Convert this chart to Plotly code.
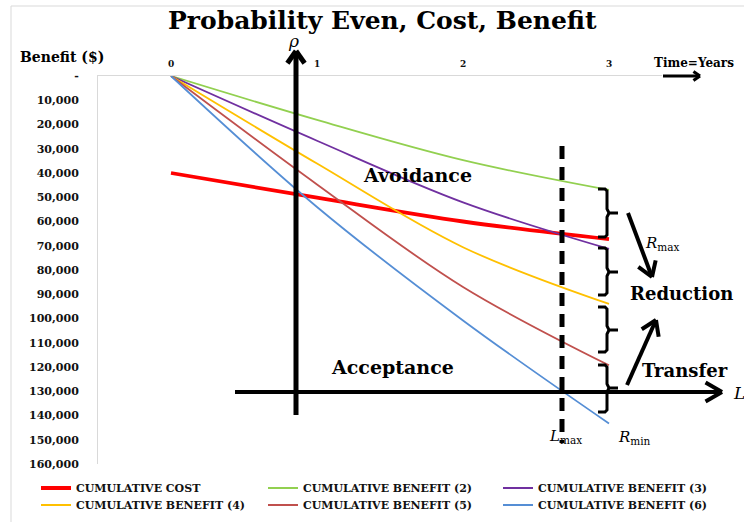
import math
import plotly.graph_objects as go

# ---------------- data ----------------
years = [0, 1, 2, 3]
x_tick_labels = ["0", "1", "2", "3"]
cumulative_cost = [40000, 50200, 60000, 67300]
cumulative_benefit_2 = [0, 18100, 34700, 47000]
cumulative_benefit_3 = [0, 26700, 52100, 71300]
cumulative_benefit_4 = [0, 36100, 70600, 94000]
cumulative_benefit_5 = [0, 44700, 87000, 119300]
cumulative_benefit_6 = [0, 54000, 100800, 143300]
y_tick_values = list(range(0, 160001, 10000))
y_tick_labels = ["-"] + [f"{v:,}" for v in y_tick_values[1:]]

series_names = ["CUMULATIVE COST", "CUMULATIVE BENEFIT (2)", "CUMULATIVE BENEFIT (3)",
                "CUMULATIVE BENEFIT (4)", "CUMULATIVE BENEFIT (5)", "CUMULATIVE BENEFIT (6)"]
series_values = [cumulative_cost, cumulative_benefit_2, cumulative_benefit_3,
                 cumulative_benefit_4, cumulative_benefit_5, cumulative_benefit_6]
series_colors = ["#FF0000", "#92D050", "#7030A0", "#FFC000", "#C0504D", "#558ED5"]
series_widths = [3.8, 1.8, 1.8, 1.8, 1.8, 1.8]

W, H = 744, 522
L_, R_, T_, B_ = 98, 662, 76, 464
SERIF = "DejaVu Serif"

def px(x):
    return (x - L_) / (R_ - L_)

def py(y):
    return (B_ - y) / (B_ - T_)

fig = go.Figure()
legend_ids = ["legend", "legend2", "legend3", "legend4", "legend5", "legend6"]
legend_pos = [(76, 488), (303, 488), (538, 488), (76, 505), (303, 505), (538, 505)]
for name, vals, col, wd, lid in zip(series_names, series_values, series_colors, series_widths, legend_ids):
    fig.add_trace(go.Scatter(
        x=years, y=vals, name=name, mode="lines",
        line=dict(color=col, width=wd, shape="spline", smoothing=1.0),
        legend=lid, hoverinfo="skip"))

legend_layout = {}
for lid, (tx, ty) in zip(legend_ids, legend_pos):
    legend_layout[lid] = dict(
        x=px(tx - 40), y=py(ty), xanchor="left", yanchor="middle",
        orientation="h", bgcolor="rgba(0,0,0,0)", borderwidth=0,
        font=dict(family=SERIF, size=11, color="#111111", weight="bold"),
        itemwidth=30)

shapes = []

def seg(x0, y0, x1, y1, width=4, dash=None, color="black"):
    line = dict(color=color, width=width)
    if dash:
        line["dash"] = dash
    shapes.append(dict(type="line", xref="paper", yref="paper",
                       x0=px(x0), y0=py(y0), x1=px(x1), y1=py(y1), line=line))

def arrow(tail, tip, width=4, head=15, ang=33):
    seg(tail[0], tail[1], tip[0], tip[1], width)
    dx, dy = tail[0] - tip[0], tail[1] - tip[1]
    n = math.hypot(dx, dy)
    ux, uy = dx / n, dy / n
    for s in (1, -1):
        a = math.radians(ang) * s
        wx = ux * math.cos(a) - uy * math.sin(a)
        wy = ux * math.sin(a) + uy * math.cos(a)
        path = (f"M{px(tip[0] + wx * head)},{py(tip[1] + wy * head)} "
                f"L{px(tip[0])},{py(tip[1])}")
        shapes.append(dict(type="path", xref="paper", yref="paper", path=path,
                           line=dict(color="black", width=width)))

def brace(y0, y1, ym, xl=598, xs=607, xt=618, width=3):
    r = 4
    pts = (f"M{px(xl)},{py(y0)} L{px(xs - 2)},{py(y0)} L{px(xs)},{py(y0 + 2)} "
           f"L{px(xs)},{py(ym - r)} L{px(xs + 2)},{py(ym)} L{px(xt)},{py(ym)} "
           f"M{px(xs + 2)},{py(ym)} L{px(xs)},{py(ym + r)} "
           f"L{px(xs)},{py(y1 - 2)} L{px(xs - 2)},{py(y1)} L{px(xl)},{py(y1)}")
    shapes.append(dict(type="path", xref="paper", yref="paper", path=pts,
                       line=dict(color="black", width=width)))

# outer chart frame
shapes.append(dict(type="rect", xref="paper", yref="paper", x0=px(11), y0=py(6),
                   x1=px(780), y1=py(560), line=dict(color="#D9D9D9", width=1)))

# rho axis arrow, L axis arrow, time arrow
arrow((296, 415), (296, 51), width=5, head=15, ang=35)
arrow((235, 392), (722, 392), width=4, head=19, ang=30)
arrow((663, 76), (700, 76), width=3, head=8, ang=35)
# dashed L_max line
seg(562, 146, 562, 443, width=5, dash="13px,8px")
# braces
brace(189, 237, 213)
brace(248, 295, 272)
brace(307, 352, 330)
brace(365, 412, 388)
# reduction / transfer arrows
arrow((628, 213), (652, 277), width=4, head=17, ang=33)
arrow((627, 385), (656, 320), width=4, head=17, ang=33)

annotations = []

def text(s, x, y, size, xanchor="left", bold=True, italic=False, color="black"):
    annotations.append(dict(
        text=s, xref="paper", yref="paper", x=px(x), y=py(y),
        xanchor=xanchor, yanchor="middle", showarrow=False,
        font=dict(family=SERIF, size=size, color=color,
                  weight="bold" if bold else "normal",
                  style="italic" if italic else "normal")))

text("Probability Even, Cost, Benefit", 382, 20, 25, xanchor="center")
text("Benefit ($)", 18, 57, 14)
text("Time=Years", 652, 63, 12)
text("ρ", 293, 41, 17, xanchor="center", bold=False, italic=True)
text("Avoidance", 417, 175, 19, xanchor="center")
text("Acceptance", 392, 367, 19, xanchor="center")
text("Reduction", 628, 293, 18)
text("Transfer", 640, 370, 18)
text("L", 731, 393, 17, bold=False, italic=True)
text("<i>R</i><sub>max</sub>", 643, 243, 15, bold=False)
text("<i>R</i><sub>min</sub>", 616, 437, 15, bold=False)
text("<i>L</i><sub>max</sub>", 547, 436, 15, bold=False)

fig.update_layout(
    width=W, height=H,
    margin=dict(l=L_, r=W - R_, t=T_, b=H - B_, autoexpand=False),
    paper_bgcolor="white", plot_bgcolor="white",
    showlegend=True,
    shapes=shapes, annotations=annotations,
    xaxis=dict(range=[-0.5, (R_ - 171) / 146.0], side="top",
               tickvals=years, ticktext=x_tick_labels, automargin=False,
               showline=True, linecolor="#D9D9D9", linewidth=1,
               showgrid=False, zeroline=False, ticks="",
               tickfont=dict(family=SERIF, size=9, color="#111111", weight="bold"),
               ticklabelstandoff=4),
    yaxis=dict(range=[160000, 0], tickvals=y_tick_values, ticktext=y_tick_labels,
               automargin=False,
               showline=True, linecolor="#D9D9D9", linewidth=1,
               showgrid=False, zeroline=False, ticks="",
               tickfont=dict(family=SERIF, size=11, color="#111111", weight="bold"),
               ticklabelstandoff=16),
    **legend_layout,
)

fig.write_html("out.html", config={"displayModeBar": False},
               post_script="document.body.style.margin='0px';document.body.style.overflow='hidden';")
